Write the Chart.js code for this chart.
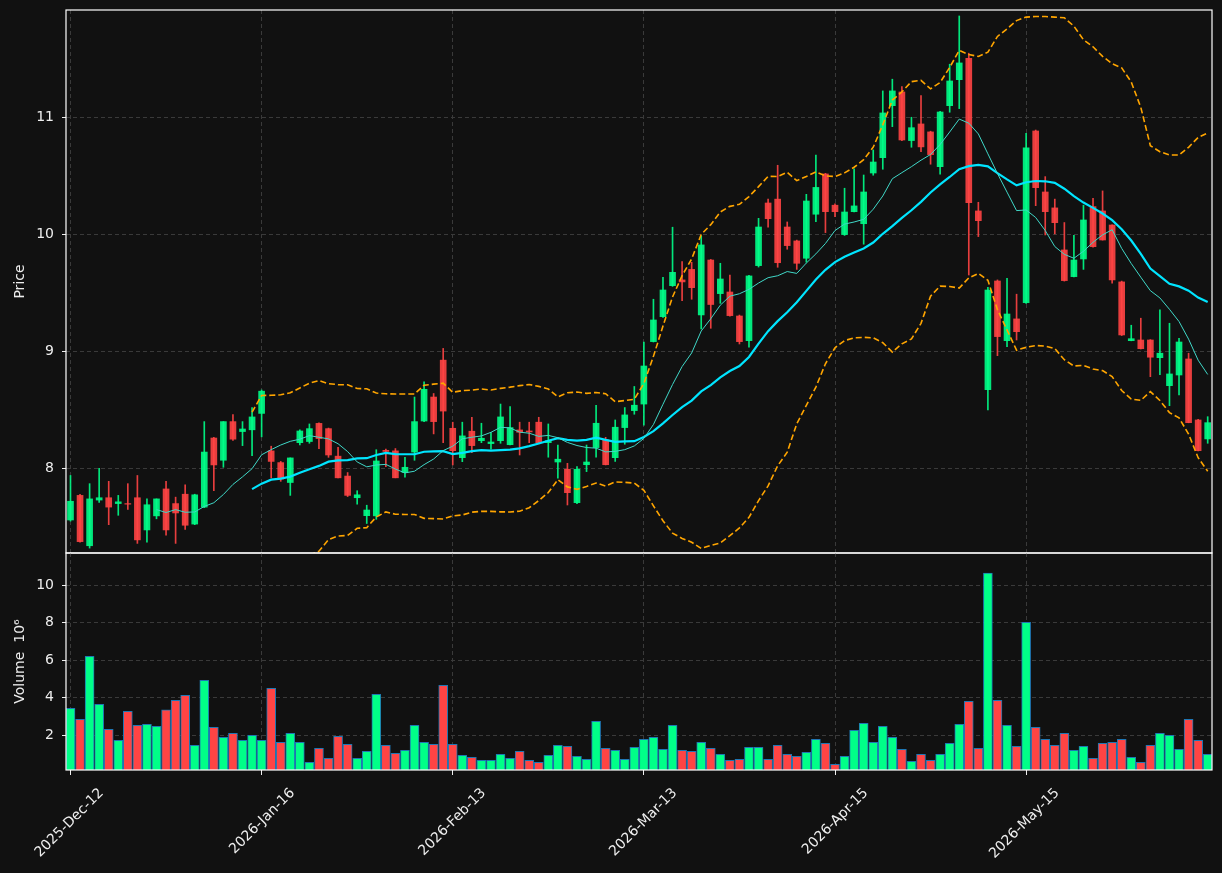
<!DOCTYPE html>
<html lang="en">
<head>
<meta charset="UTF-8">
<title>Price and Volume</title>
<script src="https://cdn.jsdelivr.net/npm/chart.js"></script>
<style>
  body { margin: 0; background: #111111; }
  #wrap { position: relative; width: 1222px; height: 873px; }
  canvas { position: absolute; left: 0; }
  #priceChart { top: 0; }
  #volumeChart { top: 552px; }
</style>
</head>
<body>
<div id="wrap">
  <canvas id="priceChart" width="1222" height="554"></canvas>
  <canvas id="volumeChart" width="1222" height="321"></canvas>
</div>
<script>
// OHLC, one entry per session (index 0..119)
const opens = [
  7.56, 7.77, 7.34, 7.73, 7.75, 7.70, 7.70, 7.75, 7.475, 7.595,
  7.825, 7.70, 7.78, 7.525, 7.67, 8.26, 8.07, 8.40, 8.315, 8.33,
  8.47, 8.15, 8.05, 7.88, 8.22, 8.23, 8.385, 8.34, 8.105, 7.935,
  7.75, 7.597, 7.595, 8.155, 8.15, 7.965, 8.14, 8.405, 8.61, 8.925,
  8.343, 8.092, 8.318, 8.237, 8.212, 8.237, 8.203, 8.329, 8.32, 8.395,
  8.22, 8.055, 7.993, 7.708, 8.032, 8.178, 8.243, 8.092, 8.349, 8.494,
  8.55, 9.083, 9.296, 9.561, 9.61, 9.70, 9.311, 9.78, 9.493, 9.507,
  9.302, 9.091, 9.732, 10.267, 10.30, 10.062, 9.943, 9.795, 10.171, 10.515,
  10.248, 9.997, 10.193, 10.09, 10.523, 10.654, 11.098, 11.215, 10.80, 10.942,
  10.874, 10.577, 11.098, 11.32, 11.503, 10.199, 8.673, 9.601, 9.091, 9.277,
  9.416, 10.882, 10.361, 10.225, 9.866, 9.638, 9.789, 10.236, 10.199, 10.079,
  9.593, 9.091, 9.097, 9.097, 8.946, 8.707, 8.798, 8.935, 8.414, 8.252
];
const highs = [
  7.94, 7.78, 7.87, 8.00, 7.89, 7.77, 7.87, 7.94, 7.74, 7.74,
  7.89, 7.755, 7.86, 7.78, 8.40, 8.265, 8.40, 8.46, 8.40, 8.52,
  8.67, 8.19, 8.06, 8.09, 8.33, 8.38, 8.39, 8.345, 8.18, 7.965,
  7.81, 7.686, 8.16, 8.165, 8.17, 8.096, 8.61, 8.74, 8.64, 9.025,
  8.395, 8.395, 8.437, 8.386, 8.306, 8.55, 8.528, 8.395, 8.395, 8.437,
  8.38, 8.20, 8.044, 8.015, 8.20, 8.54, 8.266, 8.414, 8.52, 8.70,
  9.08, 9.445, 9.633, 10.06, 9.766, 9.76, 9.986, 9.785, 9.752, 9.652,
  9.31, 9.65, 10.136, 10.30, 10.589, 10.105, 9.95, 10.341, 10.677, 10.52,
  10.26, 10.393, 10.558, 10.506, 10.72, 11.224, 11.324, 11.26, 10.999, 11.184,
  10.88, 11.05, 11.452, 11.864, 11.546, 10.273, 9.547, 9.61, 9.624, 9.488,
  10.862, 10.89, 10.492, 10.30, 10.10, 9.991, 10.248, 10.307, 10.37, 10.08,
  9.60, 9.223, 9.283, 9.10, 9.354, 9.24, 9.112, 8.984, 8.42, 8.442
];
const lows = [
  7.55, 7.37, 7.32, 7.71, 7.52, 7.60, 7.65, 7.36, 7.37, 7.57,
  7.43, 7.36, 7.48, 7.52, 7.665, 7.81, 8.01, 8.24, 8.195, 8.11,
  8.27, 7.92, 7.89, 7.77, 8.20, 8.215, 8.17, 8.095, 7.92, 7.76,
  7.695, 7.53, 7.566, 8.015, 7.92, 7.925, 8.07, 8.40, 8.295, 8.22,
  8.03, 8.058, 8.135, 8.22, 8.164, 8.215, 8.20, 8.115, 8.22, 8.215,
  8.096, 7.916, 7.688, 7.70, 7.973, 8.096, 8.03, 8.06, 8.207, 8.463,
  8.37, 9.08, 9.29, 9.555, 9.433, 9.445, 9.191, 9.197, 9.41, 9.30,
  9.063, 9.035, 9.72, 10.06, 9.718, 9.872, 9.70, 9.761, 10.108, 10.014,
  10.15, 9.99, 10.19, 9.915, 10.504, 10.555, 10.919, 10.80, 10.743, 10.706,
  10.598, 10.512, 11.042, 11.073, 9.652, 9.98, 8.50, 8.963, 9.04, 9.097,
  9.41, 10.244, 9.994, 10.003, 9.60, 9.635, 9.70, 9.89, 9.95, 9.582,
  9.135, 9.09, 9.02, 8.784, 8.80, 8.536, 8.628, 8.39, 8.15, 8.215
];
const closes = [
  7.72, 7.375, 7.74, 7.75, 7.67, 7.715, 7.695, 7.39, 7.69, 7.74,
  7.475, 7.62, 7.515, 7.775, 8.14, 8.03, 8.40, 8.25, 8.337, 8.44,
  8.66, 8.06, 7.91, 8.09, 8.32, 8.34, 8.255, 8.115, 7.92, 7.77,
  7.775, 7.645, 8.064, 8.145, 7.92, 8.01, 8.40, 8.676, 8.40, 8.49,
  8.152, 8.278, 8.195, 8.258, 8.226, 8.44, 8.349, 8.309, 8.312, 8.22,
  8.237, 8.079, 7.793, 7.993, 8.055, 8.386, 8.032, 8.352, 8.457, 8.54,
  8.875, 9.268, 9.524, 9.675, 9.593, 9.544, 9.909, 9.40, 9.618, 9.305,
  9.083, 9.644, 10.062, 10.133, 9.757, 9.903, 9.752, 10.284, 10.40, 10.193,
  10.193, 10.19, 10.242, 10.361, 10.617, 11.036, 11.224, 10.805, 10.91, 10.746,
  10.68, 11.044, 11.309, 11.463, 10.27, 10.116, 9.524, 9.126, 9.319, 9.168,
  10.737, 10.398, 10.193, 10.099, 9.604, 9.78, 10.122, 9.894, 9.951, 9.61,
  9.14, 9.108, 9.023, 8.95, 8.984, 8.807, 9.08, 8.391, 8.152, 8.391
];
// volume in millions
const volumes = [
  3.43, 2.84, 6.21, 3.64, 2.30, 1.72, 3.27, 2.52, 2.57, 2.46,
  3.34, 3.85, 4.12, 1.45, 4.92, 2.41, 1.88, 2.09, 1.72, 1.98,
  1.72, 4.50, 1.61, 2.09, 1.61, 0.54, 1.29, 0.75, 1.93, 1.50,
  0.75, 1.13, 4.18, 1.45, 1.02, 1.18, 2.52, 1.61, 1.50, 4.66,
  1.50, 0.91, 0.81, 0.65, 0.65, 0.97, 0.75, 1.13, 0.65, 0.54,
  0.91, 1.45, 1.40, 0.86, 0.70, 2.73, 1.29, 1.18, 0.70, 1.34,
  1.77, 1.88, 1.24, 2.52, 1.18, 1.13, 1.61, 1.29, 0.97, 0.65,
  0.70, 1.34, 1.34, 0.70, 1.45, 0.97, 0.86, 1.07, 1.77, 1.56,
  0.43, 0.86, 2.25, 2.63, 1.61, 2.46, 1.88, 1.24, 0.59, 0.97,
  0.65, 0.97, 1.56, 2.57, 3.80, 1.29, 10.65, 3.85, 2.52, 1.40,
  8.03, 2.41, 1.77, 1.45, 2.09, 1.18, 1.40, 0.75, 1.56, 1.61,
  1.77, 0.81, 0.54, 1.45, 2.09, 1.98, 1.24, 2.84, 1.72, 0.97
];

const tickIdx = [0, 20, 40, 60, 80, 100];
const tickLabels = ['2025-Dec-12', '2026-Jan-16', '2026-Feb-13', '2026-Mar-13', '2026-Apr-15', '2026-May-15'];
const priceTicks = [8, 9, 10, 11];
const volumeTicks = [2, 4, 6, 8, 10];

const FONT = 'DejaVu Sans';
const textColor = '#eeeeee';
const gridColor = '#3a3a3a';
const upColor = '#00ff88';
const downColor = '#ff4444';
const xMin = -0.47, xMax = 119.45;

// moving averages and bands from the closes
function sma(values, n) {
  return values.map((v, i) => {
    if (i < n - 1) return null;
    let s = 0;
    for (let k = i - n + 1; k <= i; k++) s += values[k];
    return s / n;
  });
}
function rollingStd(values, n) {
  const m = sma(values, n);
  return values.map((v, i) => {
    if (m[i] === null) return null;
    let s = 0;
    for (let k = i - n + 1; k <= i; k++) s += (values[k] - m[i]) ** 2;
    return Math.sqrt(s / (n - 1));
  });
}
const ma10 = sma(closes, 10);
const ma20 = sma(closes, 20);
const sd20 = rollingStd(closes, 20);
const bbUpper = ma20.map((m, i) => m === null ? null : m + 2 * sd20[i]);
const bbLower = ma20.map((m, i) => m === null ? null : m - 2 * sd20[i]);

const isUp = closes.map((c, i) => c >= opens[i]);
const candleColors = isUp.map(u => u ? 'rgba(0,255,136,0.9)' : 'rgba(255,68,68,0.9)');
const volColors = isUp.map(u => u ? upColor : downColor);
const pts = arr => arr.map((v, i) => ({ x: i, y: v }));

// outer frame around each panel
const framePlugin = {
  id: 'frame',
  afterDraw(chart) {
    const { ctx, chartArea: a } = chart;
    ctx.save();
    ctx.strokeStyle = '#ffffff';
    ctx.lineWidth = 1.2;
    ctx.strokeRect(a.left, a.top, a.right - a.left, a.bottom - a.top);
    ctx.restore();
  }
};

function xScale(showLabels) {
  return {
    type: 'linear',
    min: xMin,
    max: xMax,
    offset: false,
    afterBuildTicks: s => { s.ticks = tickIdx.map(v => ({ value: v })); },
    afterFit: s => { s.height = showLabels ? 103 : 0; s.paddingLeft = 0; s.paddingRight = 0; },
    grid: { offset: false, color: gridColor, lineWidth: 1, drawTicks: showLabels, tickLength: 5, tickColor: textColor, tickBorderDash: [] },
    border: { display: false, dash: [4, 3] },
    ticks: {
      display: showLabels, autoSkip: false, maxRotation: 45, minRotation: 45,
      labelOffset: 31, padding: 10, color: textColor,
      font: { family: FONT, size: 14 },
      callback: (v, i) => tickLabels[i]
    }
  };
}

function yScale(min, max, ticks, title) {
  return {
    type: 'linear',
    position: 'left',
    min: min,
    max: max,
    afterBuildTicks: s => { s.ticks = ticks.map(v => ({ value: v })); },
    afterFit: s => { s.width = 66; s.paddingTop = 0; s.paddingBottom = 0; },
    grid: { color: gridColor, lineWidth: 1, tickLength: 4, tickColor: textColor, tickBorderDash: [] },
    border: { display: false, dash: [4, 3] },
    ticks: { color: textColor, padding: 8, font: { family: FONT, size: 14 } },
    title: { display: true, text: title, color: textColor, font: { family: FONT, size: 14 }, padding: { top: 12, bottom: 0 } }
  };
}

const common = {
  responsive: false,
  animation: false,
  events: [],
  plugins: { legend: { display: false }, tooltip: { enabled: false } }
};

new Chart(document.getElementById('priceChart'), {
  type: 'bar',
  data: {
    datasets: [
      { type: 'line', data: pts(ma10), borderColor: '#40d8c8', borderWidth: 1, pointRadius: 0, order: 0 },
      { type: 'line', data: pts(ma20), borderColor: '#00e5ff', borderWidth: 2.2, pointRadius: 0, order: 0 },
      { type: 'line', data: pts(bbUpper), borderColor: '#ffa500', borderWidth: 1.6, borderDash: [6, 3], pointRadius: 0, order: 0 },
      { type: 'line', data: pts(bbLower), borderColor: '#ffa500', borderWidth: 1.6, borderDash: [6, 3], pointRadius: 0, order: 0 },
      {
        data: opens.map((o, i) => ({ x: i, y: [o, closes[i]] })),
        backgroundColor: candleColors, borderWidth: 0, barThickness: 6, grouped: false, order: 1
      },
      {
        data: lows.map((l, i) => ({ x: i, y: [l, highs[i]] })),
        backgroundColor: candleColors, borderWidth: 0, barThickness: 1, grouped: false, order: 2
      }
    ]
  },
  options: Object.assign({}, common, {
    layout: { padding: { top: 10, right: 10, left: 0, bottom: 1 } },
    scales: { x: xScale(false), y: yScale(7.278, 11.915, priceTicks, 'Price') }
  }),
  plugins: [framePlugin]
});

new Chart(document.getElementById('volumeChart'), {
  type: 'bar',
  data: {
    datasets: [{
      data: volumes.map((v, i) => ({ x: i, y: v })),
      backgroundColor: volColors, borderColor: '#1f77b4', borderWidth: 1,
      barThickness: 9, grouped: false
    }]
  },
  options: Object.assign({}, common, {
    layout: { padding: { top: 1, right: 10, left: 0, bottom: 0 } },
    scales: { x: xScale(true), y: yScale(0.13, 11.73, volumeTicks, 'Volume  10\u2076') }
  }),
  plugins: [framePlugin]
});
</script>
</body>
</html>
